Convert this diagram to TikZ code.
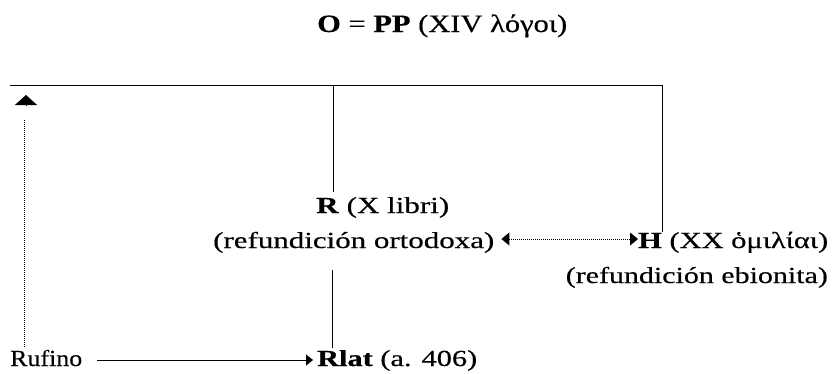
\documentclass[tikz,border=0pt]{standalone}
\usepackage{fontspec}
\usepackage{graphicx}
\setmainfont{Liberation Serif}[UprightFeatures={FakeBold=0.4}, BoldFeatures={FakeBold=0.4}]
\usetikzlibrary{arrows.meta}
\newcommand\fitw[2]{\resizebox{#1pt}{\height}{#2}}
\tikzset{
  txt/.style={inner sep=0pt, font=\fontsize{23}{27}\selectfont},
  ttl/.style={inner sep=0pt, font=\fontsize{25}{29}\selectfont},
  link/.style={line width=1pt},
  dotlink/.style={line width=1pt, dash pattern=on 0.8pt off 1.2pt},
  midtri/.tip={Triangle[length=8pt,width=13pt]},
  tipsm/.style={-{Triangle[length=7pt,width=11pt]}},
}
\begin{document}
\begin{tikzpicture}[x=1pt,y=-1pt]
\fill[white] (0,0) rectangle (834,373);
\useasboundingbox (0,0) rectangle (834,373);
% texts
\node[ttl, anchor=base west] (O) at (317,32) {\fitw{250}{\textbf{O} = \textbf{PP} (XIV λόγοι)}};
\node[txt, anchor=base west] (R) at (316,213) {\fitw{133}{\textbf{R} (X libri)}};
\node[txt, anchor=base west] (R2) at (213,248) {\fitw{281}{(refundición ortodoxa)}};
\node[txt, anchor=base west] (H) at (638,248) {\fitw{190}{\textbf{H} (XX ὁμιλίαι)}};
\node[txt, anchor=base east] (H2) at (828,283) {\fitw{262}{(refundición ebionita)}};
\node[txt, anchor=base west] (Ruf) at (10,366) {\fitw{72}{Rufino}};
\node[txt, anchor=base west] (Rlat) at (317,366) {\fitw{160}{\textbf{Rlat} (a. 406)}};
% bracket under O
\coordinate (tl) at (10,85);
\coordinate (tr) at (662,85);
\coordinate (rt) at (333,85);
\coordinate (rx) at (332,0);
\coordinate (lx) at (24,0);
\coordinate (ax) at (97,360);
\coordinate (dottop) at (24,120);
\coordinate (upbase) at (26,106);
\coordinate (uptip) at (26,95);
\coordinate (ra) at ([yshift=9pt]R2.base east);
\coordinate (ha) at ([yshift=9pt]H.base west);
\draw[link] (tl) -- (tr) -- (tr |- H.north);
\draw[link] (rt) -- ([yshift=5pt]rt |- R.north);
% R to Rlat
\draw[link] ([yshift=-22pt]rx |- R2.base) -- ([yshift=2pt]rx |- Rlat.north);
% R <-> H
\draw[dotlink, midtri-midtri, shorten <=7pt, shorten >=0pt] (ra) -- (ha);
% Rufino -> Rlat
\draw[link, tipsm, shorten >=4pt] (ax) -- (ax -| Rlat.west);
% Rufino up to O (dotted, arrowhead detached)
\draw[dotlink] ([yshift=3pt]lx |- Ruf.north) -- (dottop);
\draw[link, -{Triangle[length=10pt,width=22pt]}] (upbase) -- (uptip);
\end{tikzpicture}
\end{document}
